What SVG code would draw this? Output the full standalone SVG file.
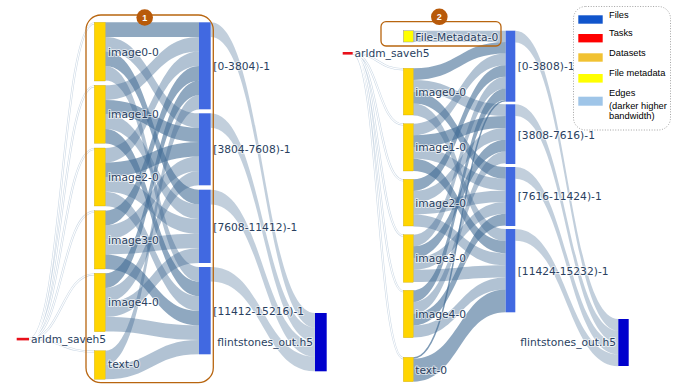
<svg xmlns="http://www.w3.org/2000/svg" width="678" height="387" viewBox="0 0 678 387">
<style>
.lk{fill:rgb(69,110,150);fill-opacity:.42}
.dk{fill:rgb(69,110,150);fill-opacity:.6}
.fl{fill:rgb(69,110,150);fill-opacity:.33}
.th1{fill:none;stroke:#cbd8e5;stroke-width:2.2}
.th2{fill:none;stroke:#fff;stroke-width:1.1}
.ds{fill:#ffd500;stroke:#b89a00;stroke-width:.3}
.fi{fill:#4169e1}
.out{fill:#0000cd}
.task{fill:#e8101a}
.fm{fill:#ffff00;stroke:#999;stroke-width:.5}
.lb{font-family:"DejaVu Sans",Verdana,sans-serif;font-size:10.7px;fill:#2a3f5f;stroke:#fff;stroke-width:2;stroke-opacity:.6;paint-order:stroke;stroke-linejoin:round}
.grp{fill:none;stroke:#b8650f;stroke-width:1.3}
.badge{fill:#b85a0a}
.bt{font-family:"Liberation Sans",Arial,sans-serif;font-size:9px;font-weight:bold;fill:#fff}
.lg{font-family:"Liberation Sans",Arial,sans-serif;font-size:9.3px;fill:#000}
</style>

<g id="connectors">
<g id="left-task-links">
<path class="th1" d="M29 339C61.7 339 61.7 23.3 94.3 23.3M29 339C61.7 339 61.7 86.3 94.3 86.3M29 339C61.7 339 61.7 149 94.3 149M29 339C61.7 339 61.7 211.7 94.3 211.7M29 339C61.7 339 61.7 274.3 94.3 274.3M29 339C61.7 339 61.7 351.7 94.3 351.7"/>
<path class="th2" d="M29 339C61.7 339 61.7 23.3 94.3 23.3M29 339C61.7 339 61.7 86.3 94.3 86.3M29 339C61.7 339 61.7 149 94.3 149M29 339C61.7 339 61.7 211.7 94.3 211.7M29 339C61.7 339 61.7 274.3 94.3 274.3M29 339C61.7 339 61.7 351.7 94.3 351.7"/>
</g>
<g id="left-dataset-links">
<path class="dk" d="M105.3 22.3C152.2 22.3 152.2 22.3 199 22.3L199 36.9C152.2 36.9 152.2 36.9 105.3 36.9Z"/>
<path class="lk" d="M105.3 36.9C152.2 36.9 152.2 113.3 199 113.3L199 127.7C152.2 127.7 152.2 51.3 105.3 51.3Z"/>
<path class="dk" d="M105.3 51.3C152.2 51.3 152.2 189.7 199 189.7L199 204.4C152.2 204.4 152.2 66 105.3 66Z"/>
<path class="lk" d="M105.3 66C152.2 66 152.2 267 199 267L199 281.6C152.2 281.6 152.2 80.6 105.3 80.6Z"/>
<path class="lk" d="M105.3 85.3C152.2 85.3 152.2 36.9 199 36.9L199 51.5C152.2 51.5 152.2 99.9 105.3 99.9Z"/>
<path class="dk" d="M105.3 99.9C152.2 99.9 152.2 127.7 199 127.7L199 142.1C152.2 142.1 152.2 114.3 105.3 114.3Z"/>
<path class="lk" d="M105.3 114.3C152.2 114.3 152.2 204.4 199 204.4L199 219C152.2 219 152.2 129 105.3 129Z"/>
<path class="dk" d="M105.3 129C152.2 129 152.2 281.6 199 281.6L199 296.2C152.2 296.2 152.2 143.6 105.3 143.6Z"/>
<path class="lk" d="M105.3 148C152.2 148 152.2 51.5 199 51.5L199 66.1C152.2 66.1 152.2 162.6 105.3 162.6Z"/>
<path class="dk" d="M105.3 162.6C152.2 162.6 152.2 142.1 199 142.1L199 156.5C152.2 156.5 152.2 177 105.3 177Z"/>
<path class="lk" d="M105.3 177C152.2 177 152.2 219 199 219L199 233.7C152.2 233.7 152.2 191.7 105.3 191.7Z"/>
<path class="lk" d="M105.3 191.7C152.2 191.7 152.2 296.2 199 296.2L199 310.8C152.2 310.8 152.2 206.3 105.3 206.3Z"/>
<path class="dk" d="M105.3 210.7C152.2 210.7 152.2 66.1 199 66.1L199 80.7C152.2 80.7 152.2 225.3 105.3 225.3Z"/>
<path class="lk" d="M105.3 225.3C152.2 225.3 152.2 156.5 199 156.5L199 170.9C152.2 170.9 152.2 239.7 105.3 239.7Z"/>
<path class="lk" d="M105.3 239.7C152.2 239.7 152.2 233.7 199 233.7L199 248.3C152.2 248.3 152.2 254.4 105.3 254.4Z"/>
<path class="dk" d="M105.3 254.4C152.2 254.4 152.2 310.8 199 310.8L199 325.4C152.2 325.4 152.2 269 105.3 269Z"/>
<path class="dk" d="M105.3 273.3C152.2 273.3 152.2 80.7 199 80.7L199 95.3C152.2 95.3 152.2 287.9 105.3 287.9Z"/>
<path class="lk" d="M105.3 287.9C152.2 287.9 152.2 170.9 199 170.9L199 185.3C152.2 185.3 152.2 302.3 105.3 302.3Z"/>
<path class="lk" d="M105.3 302.3C152.2 302.3 152.2 248.3 199 248.3L199 263C152.2 263 152.2 317 105.3 317Z"/>
<path class="lk" d="M105.3 317C152.2 317 152.2 325.4 199 325.4L199 340C152.2 340 152.2 331.6 105.3 331.6Z"/>
<path class="lk" d="M105.3 350.7C152.2 350.7 152.2 95.3 199 95.3L199 109.6C152.2 109.6 152.2 365 105.3 365Z"/>
<path class="lk" d="M105.3 365C152.2 365 152.2 340 199 340L199 354.3C152.2 354.3 152.2 379.3 105.3 379.3Z"/>
</g>
<g id="left-file-links">
<path class="fl" d="M210.7 22.3C262.9 22.3 262.9 313 315 313L315 327.6C262.9 327.6 262.9 36.9 210.7 36.9Z"/>
<path class="fl" d="M210.7 113.3C262.9 113.3 262.9 327.6 315 327.6L315 342C262.9 342 262.9 127.7 210.7 127.7Z"/>
<path class="fl" d="M210.7 189.7C262.9 189.7 262.9 342 315 342L315 356.7C262.9 356.7 262.9 204.4 210.7 204.4Z"/>
<path class="fl" d="M210.7 267C262.9 267 262.9 356.7 315 356.7L315 371.3C262.9 371.3 262.9 281.6 210.7 281.6Z"/>
</g>
<g id="right-task-links">
<path class="th1" d="M352.7 53.3C378 53.3 378 69.3 403.3 69.3M352.7 53.3C378 53.3 378 124.7 403.3 124.7M352.7 53.3C378 53.3 378 180.3 403.3 180.3M352.7 53.3C378 53.3 378 235.7 403.3 235.7M352.7 53.3C378 53.3 378 291.3 403.3 291.3M352.7 53.3C378 53.3 378 358.3 403.3 358.3"/>
<path class="th2" d="M352.7 53.3C378 53.3 378 69.3 403.3 69.3M352.7 53.3C378 53.3 378 124.7 403.3 124.7M352.7 53.3C378 53.3 378 180.3 403.3 180.3M352.7 53.3C378 53.3 378 235.7 403.3 235.7M352.7 53.3C378 53.3 378 291.3 403.3 291.3M352.7 53.3C378 53.3 378 358.3 403.3 358.3"/>
</g>
<g id="right-dataset-links">
<path class="lk" d="M413.3 30.7C459.5 30.7 459.5 30.7 505.7 30.7L505.7 42C459.5 42 459.5 42 413.3 42Z"/>
<path class="dk" d="M413.3 68.3C459.5 68.3 459.5 42 505.7 42L505.7 53.6C459.5 53.6 459.5 79.9 413.3 79.9Z"/>
<path class="lk" d="M413.3 79.9C459.5 79.9 459.5 104.3 505.7 104.3L505.7 116.1C459.5 116.1 459.5 91.7 413.3 91.7Z"/>
<path class="dk" d="M413.3 91.7C459.5 91.7 459.5 167 505.7 167L505.7 178.7C459.5 178.7 459.5 103.4 413.3 103.4Z"/>
<path class="lk" d="M413.3 103.4C459.5 103.4 459.5 229 505.7 229L505.7 241.1C459.5 241.1 459.5 115.5 413.3 115.5Z"/>
<path class="lk" d="M413.3 123.7C459.5 123.7 459.5 53.6 505.7 53.6L505.7 65.2C459.5 65.2 459.5 135.3 413.3 135.3Z"/>
<path class="dk" d="M413.3 135.3C459.5 135.3 459.5 116.1 505.7 116.1L505.7 127.9C459.5 127.9 459.5 147.1 413.3 147.1Z"/>
<path class="lk" d="M413.3 147.1C459.5 147.1 459.5 178.7 505.7 178.7L505.7 190.4C459.5 190.4 459.5 158.8 413.3 158.8Z"/>
<path class="dk" d="M413.3 158.8C459.5 158.8 459.5 241.1 505.7 241.1L505.7 253.2C459.5 253.2 459.5 170.9 413.3 170.9Z"/>
<path class="dk" d="M413.3 179.3C459.5 179.3 459.5 65.2 505.7 65.2L505.7 76.8C459.5 76.8 459.5 190.9 413.3 190.9Z"/>
<path class="lk" d="M413.3 190.9C459.5 190.9 459.5 127.9 505.7 127.9L505.7 139.7C459.5 139.7 459.5 202.7 413.3 202.7Z"/>
<path class="lk" d="M413.3 202.7C459.5 202.7 459.5 190.4 505.7 190.4L505.7 202.1C459.5 202.1 459.5 214.4 413.3 214.4Z"/>
<path class="lk" d="M413.3 214.4C459.5 214.4 459.5 253.2 505.7 253.2L505.7 265.3C459.5 265.3 459.5 226.5 413.3 226.5Z"/>
<path class="lk" d="M413.3 234.7C459.5 234.7 459.5 76.8 505.7 76.8L505.7 88.4C459.5 88.4 459.5 246.3 413.3 246.3Z"/>
<path class="dk" d="M413.3 246.3C459.5 246.3 459.5 139.7 505.7 139.7L505.7 151.5C459.5 151.5 459.5 258.1 413.3 258.1Z"/>
<path class="lk" d="M413.3 258.1C459.5 258.1 459.5 202.1 505.7 202.1L505.7 213.8C459.5 213.8 459.5 269.8 413.3 269.8Z"/>
<path class="lk" d="M413.3 269.8C459.5 269.8 459.5 265.3 505.7 265.3L505.7 277.4C459.5 277.4 459.5 281.9 413.3 281.9Z"/>
<path class="dk" d="M413.3 290.3C459.5 290.3 459.5 88.4 505.7 88.4L505.7 100C459.5 100 459.5 301.9 413.3 301.9Z"/>
<path class="lk" d="M413.3 301.9C459.5 301.9 459.5 151.5 505.7 151.5L505.7 163.3C459.5 163.3 459.5 313.7 413.3 313.7Z"/>
<path class="dk" d="M413.3 313.7C459.5 313.7 459.5 213.8 505.7 213.8L505.7 225.5C459.5 225.5 459.5 325.4 413.3 325.4Z"/>
<path class="lk" d="M413.3 325.4C459.5 325.4 459.5 277.4 505.7 277.4L505.7 289.5C459.5 289.5 459.5 337.5 413.3 337.5Z"/>
<path d="M413.3 358C459.5 358 459.5 100.7 505.7 100.7" fill="none" stroke="rgb(69,110,150)" stroke-opacity=".7" stroke-width="1.5"/>
<path class="dk" d="M413.3 358.8C459.5 358.8 459.5 289.5 505.7 289.5L505.7 312.3C459.5 312.3 459.5 381.7 413.3 381.7Z"/>
</g>
<g id="right-file-links">
<path class="fl" d="M515.3 30.7C566.8 30.7 566.8 319 618.3 319L618.3 330.8C566.8 330.8 566.8 42.5 515.3 42.5Z"/>
<path class="fl" d="M515.3 104.3C566.8 104.3 566.8 330.8 618.3 330.8L618.3 342.6C566.8 342.6 566.8 116.1 515.3 116.1Z"/>
<path class="fl" d="M515.3 167C566.8 167 566.8 342.6 618.3 342.6L618.3 354.4C566.8 354.4 566.8 178.8 515.3 178.8Z"/>
<path class="fl" d="M515.3 229C566.8 229 566.8 354.4 618.3 354.4L618.3 366.2C566.8 366.2 566.8 240.8 515.3 240.8Z"/>
</g>
</g>

<g id="L-task"><rect class="task" x="16.7" y="337.8" width="12.3" height="2.6"/><text class="lb" x="31" y="342.8">arldm_saveh5</text></g>
<g id="L-image0"><rect class="ds" x="94.3" y="22.3" width="11" height="58.7"/><text class="lb" x="108" y="56">image0-0</text></g>
<g id="L-image1"><rect class="ds" x="94.3" y="85.3" width="11" height="58"/><text class="lb" x="108" y="118">image1-0</text></g>
<g id="L-image2"><rect class="ds" x="94.3" y="148" width="11" height="58"/><text class="lb" x="108" y="180.5">image2-0</text></g>
<g id="L-image3"><rect class="ds" x="94.3" y="210.7" width="11" height="58.3"/><text class="lb" x="108" y="243.8">image3-0</text></g>
<g id="L-image4"><rect class="ds" x="94.3" y="273.3" width="11" height="58.4"/><text class="lb" x="108" y="306.1">image4-0</text></g>
<g id="L-text"><rect class="ds" x="94.3" y="350.7" width="11" height="28.6"/><text class="lb" x="108" y="368.1">text-0</text></g>
<g id="L-file0"><rect class="fi" x="199" y="22.3" width="11.7" height="87"/><text class="lb" x="213.3" y="69.8">[0-3804)-1</text></g>
<g id="L-file1"><rect class="fi" x="199" y="113.3" width="11.7" height="72"/><text class="lb" x="213.3" y="153.1">[3804-7608)-1</text></g>
<g id="L-file2"><rect class="fi" x="199" y="189.7" width="11.7" height="73.3"/><text class="lb" x="213.3" y="230.5">[7608-11412)-1</text></g>
<g id="L-file3"><rect class="fi" x="199" y="267" width="11.7" height="87.3"/><text class="lb" x="213.3" y="314.5">[11412-15216)-1</text></g>
<g id="L-out"><rect class="out" x="315" y="313" width="11.7" height="58.3"/><text class="lb" x="313" y="346.1" text-anchor="end">flintstones_out.h5</text></g>
<g id="L-group"><rect class="grp" x="86" y="15" width="127.3" height="367.7" rx="15"/><circle class="badge" cx="144.7" cy="17.5" r="8.3"/><text class="bt" x="144.7" y="20.7" text-anchor="middle">1</text></g>

<g id="R-task"><rect class="task" x="342.7" y="52" width="10" height="2.6"/><text class="lb" x="354.5" y="57.3">arldm_saveh5</text></g>
<g id="R-meta"><rect class="fm" x="403.3" y="30.7" width="10" height="11.3"/><text class="lb" x="415.3" y="40.8">File-Metadata-0</text></g>
<g id="R-image0"><rect class="ds" x="403.3" y="68.3" width="10" height="46.7"/><text class="lb" x="415.3" y="95.5">image0-0</text></g>
<g id="R-image1"><rect class="ds" x="403.3" y="123.7" width="10" height="47.3"/><text class="lb" x="415.3" y="150.5">image1-0</text></g>
<g id="R-image2"><rect class="ds" x="403.3" y="179.3" width="10" height="46.7"/><text class="lb" x="415.3" y="207">image2-0</text></g>
<g id="R-image3"><rect class="ds" x="403.3" y="234.7" width="10" height="47.6"/><text class="lb" x="415.3" y="262.1">image3-0</text></g>
<g id="R-image4"><rect class="ds" x="403.3" y="290.3" width="10" height="47.4"/><text class="lb" x="415.3" y="317.8">image4-0</text></g>
<g id="R-text"><rect class="ds" x="403.3" y="357.3" width="10" height="24.4"/><text class="lb" x="415.3" y="373.8">text-0</text></g>
<g id="R-file0"><rect class="fi" x="505.7" y="30.7" width="9.6" height="71"/><text class="lb" x="517.7" y="70.2">[0-3808)-1</text></g>
<g id="R-file1"><rect class="fi" x="505.7" y="104.3" width="9.6" height="59.7"/><text class="lb" x="517.7" y="138.5">[3808-7616)-1</text></g>
<g id="R-file2"><rect class="fi" x="505.7" y="167" width="9.6" height="59"/><text class="lb" x="517.7" y="199.7">[7616-11424)-1</text></g>
<g id="R-file3"><rect class="fi" x="505.7" y="229" width="9.6" height="83.3"/><text class="lb" x="517.7" y="274.5">[11424-15232)-1</text></g>
<g id="R-out"><rect class="out" x="618.3" y="319" width="10.4" height="47"/><text class="lb" x="616" y="346.4" text-anchor="end">flintstones_out.h5</text></g>
<g id="R-group"><rect class="grp" x="381" y="21.7" width="120" height="24.3" rx="5"/><circle class="badge" cx="439.3" cy="16.8" r="8.3"/><text class="bt" x="439.3" y="20" text-anchor="middle">2</text></g>

<g id="legend">
<rect x="573.5" y="6.5" width="97" height="123.5" rx="12" fill="#fff" stroke="#999" stroke-width="0.9" stroke-dasharray="1 1.6"/>
<rect x="578.3" y="15.3" width="24.4" height="8.4" fill="#1155cc"/><text class="lg" x="609" y="17.5">Files</text>
<rect x="578.3" y="34" width="24.4" height="8.4" fill="#ff0000"/><text class="lg" x="609" y="35.8">Tasks</text>
<rect x="578.3" y="53.3" width="24.4" height="8.4" fill="#f1c232"/><text class="lg" x="609" y="56">Datasets</text>
<rect x="578.3" y="74" width="24.4" height="8.6" fill="#ffff00"/><text class="lg" x="609" y="76.3">File metadata</text>
<rect x="578.3" y="96.7" width="24.4" height="9" fill="#9fc5e8"/><text class="lg" x="609" y="96.3">Edges</text>
<text class="lg" x="609" y="108.5">(darker higher</text>
<text class="lg" x="609" y="119.3">bandwidth)</text>
</g>
</svg>
